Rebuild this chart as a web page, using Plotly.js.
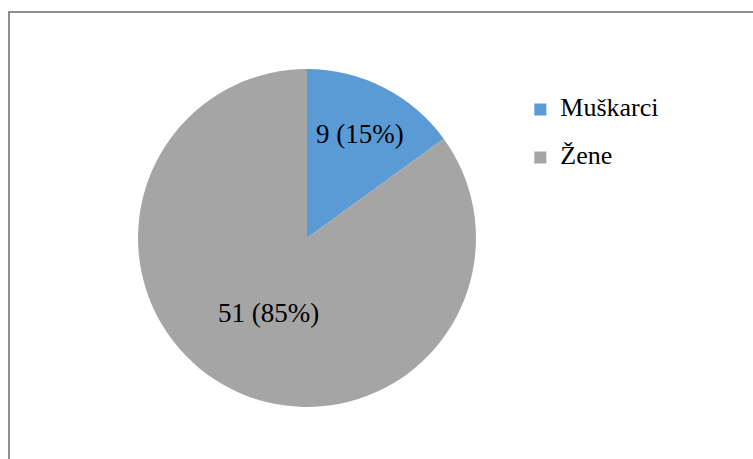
<!DOCTYPE html>
<html>
<head>
<meta charset="utf-8">
<script src="https://cdn.plot.ly/plotly-3.0.1.min.js"></script>
<style>
html,body{margin:0;padding:0;background:#fff;overflow:hidden;}
#frame{position:absolute;left:8px;top:11px;width:760px;height:460px;border-left:2px solid #8e8e8e;border-top:2px solid #8e8e8e;}
#chart{position:absolute;left:0;top:0;width:753px;height:459px;}
</style>
</head>
<body>
<div id="frame"></div>
<div id="chart"></div>
<script>
const categories = ["Muškarci", "Žene"];
const counts = [9, 51];
const sliceColors = ["#5B9BD5", "#A5A5A5"];

const FONT = "'Liberation Serif', 'Times New Roman', serif";
const legendNames = categories.map(c => "<span style='font-size:26px'>" + c + "</span><br> ");

const trace = {
  type: "pie",
  labels: legendNames,
  values: counts,
  sort: false,
  direction: "clockwise",
  rotation: 0,
  marker: {colors: sliceColors, line: {width: 0}},
  texttemplate: "%{value} (%{percent})",
  textposition: "inside",
  insidetextorientation: "horizontal",
  textfont: {family: FONT, size: 27, color: "#000"},
  hoverinfo: "none",
  domain: {x: [0.1833, 0.6321], y: [0.1133, 0.8497]}
};

const layout = {
  width: 753, height: 459,
  margin: {l: 0, r: 0, t: 0, b: 0},
  paper_bgcolor: "rgba(0,0,0,0)",
  plot_bgcolor: "rgba(0,0,0,0)",
  showlegend: true,
  legend: {
    x: 0.691, xanchor: "left", y: 0.80, yanchor: "top",
    itemwidth: 30,
    font: {family: FONT, size: 17.3, color: "#000"},
    valign: "top",
    bgcolor: "rgba(0,0,0,0)"
  },
  font: {family: FONT}
};

Plotly.newPlot("chart", [trace], layout, {displayModeBar: false, staticPlot: true});
</script>
</body>
</html>
